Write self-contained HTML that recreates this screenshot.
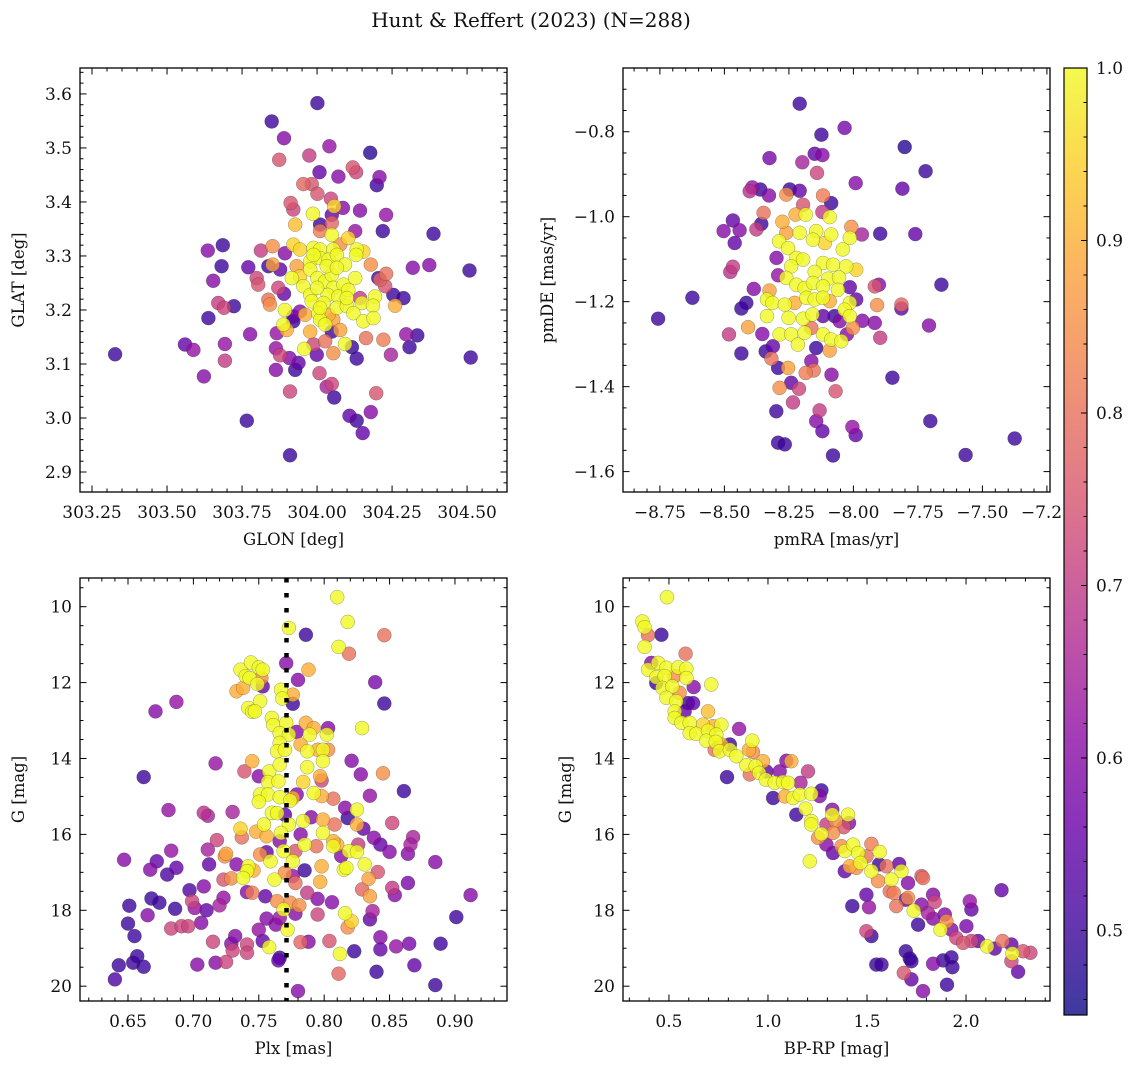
<!DOCTYPE html>
<html><head><meta charset="utf-8">
<style>
html,body{margin:0;padding:0;background:#fff;}
svg{display:block;font-family:"DejaVu Serif","Liberation Serif",serif;}
</style></head>
<body>
<svg id="fig" width="1136" height="1068" viewBox="0 0 1136 1068" xmlns="http://www.w3.org/2000/svg">
<rect x="0" y="0" width="1136" height="1068" fill="#fff"/>
<text x="531" y="27" font-size="20" text-anchor="middle" fill="#111">Hunt &amp; Reffert (2023) (N=288)</text>
<defs>
<linearGradient id="cbgrad" x1="0" y1="1" x2="0" y2="0">
<stop offset="0" stop-color="#0d0887"/><stop offset="0.1" stop-color="#41049d"/><stop offset="0.2" stop-color="#6a00a8"/><stop offset="0.3" stop-color="#8f0da4"/><stop offset="0.4" stop-color="#b12a90"/><stop offset="0.5" stop-color="#cc4778"/><stop offset="0.6" stop-color="#e16462"/><stop offset="0.7" stop-color="#f2844b"/><stop offset="0.8" stop-color="#fca636"/><stop offset="0.9" stop-color="#fcce25"/><stop offset="1" stop-color="#f0f921"/>
</linearGradient>
</defs>
<g id="layer"></g>
</svg>
<script>
// ---------- Panel 1: GLON / GLAT ----------
const tlGlon = [
304.001,303.849,303.89,304.041,304.177,303.874,303.974,304.119,304.13,304.008,
304.071,304.208,304.199,303.954,303.982,304.001,304.046,303.912,303.921,304.086,
304.057,304.143,304.23,304.049,303.927,303.986,304.01,304.049,304.219,304.388,
304.127,304.01,304.049,304.104,303.686,303.636,303.813,303.852,303.893,303.921,
303.943,303.988,304.01,304.054,304.077,304.132,304.154,304.13,303.682,303.771,
303.838,303.852,303.877,303.932,303.977,304.01,304.038,304.066,304.093,304.179,
304.319,304.374,304.508,303.654,303.799,303.804,303.871,303.89,303.916,303.954,
303.977,304.001,304.027,304.049,304.054,304.088,304.127,304.204,304.21,304.23,
304.227,304.254,304.288,303.671,303.69,303.723,303.838,303.843,303.977,304.035,
304.071,303.982,304.021,304.066,304.099,304.143,304.149,304.193,304.186,304.26,
303.893,303.943,303.921,303.96,304.004,304.01,304.054,304.121,303.638,303.888,
303.899,303.921,303.977,304.027,304.049,304.077,304.154,304.188,303.777,303.866,
303.693,303.56,303.588,303.863,303.957,303.988,304.027,304.054,304.093,304.116,
304.163,304.221,304.297,304.334,304.308,304.246,304.512,303.327,303.693,303.877,
303.908,303.938,303.999,304.132,303.863,303.927,303.623,304.008,304.032,304.049,
303.91,304.057,304.197,304.108,304.132,304.179,303.766,304.152,303.91,
303.988,304.032,304.066,304.0,303.943,304.104,304.01,304.038,304.099];
const tlGlat = [
3.583,3.549,3.518,3.503,3.491,3.478,3.486,3.464,3.455,3.455,
3.447,3.446,3.431,3.433,3.433,3.415,3.406,3.398,3.386,3.389,
3.392,3.384,3.376,3.376,3.358,3.378,3.358,3.361,3.346,3.341,
3.346,3.346,3.339,3.333,3.32,3.31,3.31,3.318,3.305,3.321,
3.312,3.315,3.312,3.312,3.321,3.312,3.308,3.302,3.281,3.279,
3.281,3.284,3.275,3.281,3.29,3.296,3.293,3.302,3.284,3.284,
3.278,3.283,3.273,3.254,3.259,3.247,3.241,3.23,3.259,3.244,
3.275,3.259,3.253,3.265,3.241,3.247,3.259,3.259,3.256,3.267,
3.244,3.228,3.222,3.213,3.204,3.207,3.219,3.21,3.228,3.228,
3.225,3.216,3.213,3.204,3.207,3.222,3.213,3.225,3.208,3.208,
3.2,3.197,3.188,3.191,3.194,3.182,3.182,3.194,3.185,3.173,
3.163,3.179,3.16,3.173,3.16,3.163,3.179,3.185,3.155,3.157,
3.137,3.136,3.126,3.129,3.128,3.136,3.142,3.12,3.137,3.131,
3.148,3.145,3.155,3.153,3.131,3.117,3.112,3.118,3.106,3.116,
3.111,3.102,3.117,3.11,3.089,3.089,3.077,3.083,3.058,3.063,
3.049,3.038,3.046,3.004,2.995,3.011,2.995,2.972,2.931,
3.302,3.281,3.278,3.241,3.262,3.237,3.204,3.191,3.222];
const tlProb = [
.5,.5,.6,.62,.48,.75,.7,.75,.72,.55,
.6,.6,.5,.78,.75,.75,.72,.75,.72,.6,
.95,.6,.62,.55,.92,1,.5,.78,.5,.5,
.62,.82,1,.95,.5,.6,.7,.85,.6,.95,
.95,1,1,1,.85,1,.95,1,.5,.55,
.5,.88,.55,.88,1,1,1,1,1,.85,
.6,.6,.5,.6,.72,.75,.72,.55,1,1,
1,1,1,1,1,1,1,.5,.78,.8,
.75,.5,.5,.7,.72,.5,.8,.85,1,1,
1,1,1,1,1,.7,1,1,1,.9,
1,.6,.55,.9,1,1,.88,1,.5,1,
.9,.5,.9,1,.5,.88,1,1,.6,.62,
.62,.55,.62,.62,1,.72,.8,.85,1,.5,
.8,.82,.62,.5,.5,.65,.5,.5,.7,.72,
.6,.55,.55,.5,.6,.5,.6,.72,.65,.72,
.72,.5,.75,.55,.5,.6,.5,.55,.5,
1,1,1,1,.95,1,1,.9,1];
const tlXTicks = [303.25,303.50,303.75,304.00,304.25,304.50];
const tlYTicks = [2.9,3.0,3.1,3.2,3.3,3.4,3.5,3.6];

// ---------- Panel 2: pmRA / pmDE ----------
const trPmra = [
-8.208,-8.034,-8.124,-7.801,-7.72,-8.325,-8.198,-8.15,-8.12,-8.141,
-7.991,-7.81,-8.402,-8.392,-8.361,-8.327,-8.247,-8.208,-8.26,-8.118,
-8.086,-8.195,-8.348,-8.467,-8.357,-8.376,-8.441,-8.503,-8.46,-8.275,
-8.224,-8.185,-8.12,-8.092,-8.008,-7.967,-7.896,-7.76,-8.26,-8.208,
-8.144,-8.086,-8.014,-8.288,-8.253,-8.157,-8.111,-8.041,-8.298,-8.221,
-8.195,-8.118,-8.079,-8.028,-7.989,-8.241,-8.26,-8.15,-8.098,-8.056,
-8.467,-8.477,-8.292,-8.221,-8.189,-8.157,-8.118,-8.06,-8.014,-7.917,
-7.901,-7.659,-8.386,-8.325,-8.624,-8.415,-8.434,-8.335,-8.314,-8.266,
-8.228,-8.182,-8.15,-8.118,-8.092,-8.014,-7.989,-8.034,-7.908,-7.814,
-7.814,-8.757,-8.335,-8.251,-8.195,-8.159,-8.118,-8.073,-8.053,-8.014,
-7.965,-7.917,-7.707,-8.408,-8.482,-8.353,-8.286,-8.241,-8.215,-8.189,
-8.163,-8.118,-8.086,-8.047,-8.002,-8.025,-7.896,-8.312,-8.34,-8.434,
-8.144,-8.092,-8.318,-8.292,-8.253,-8.185,-8.154,-8.163,-8.085,-7.849,
-8.241,-8.286,-8.211,-8.069,-8.234,-8.131,-8.299,-8.144,-8.12,-8.004,
-7.991,-7.702,-8.292,-8.266,-8.079,-7.565,-7.375];
const trPmde = [
-0.734,-0.791,-0.807,-0.836,-0.893,-0.862,-0.872,-0.852,-0.855,-0.897,
-0.921,-0.934,-0.94,-0.931,-0.936,-0.95,-0.936,-0.939,-0.948,-0.95,
-0.968,-0.972,-0.991,-1.009,-1.017,-1.03,-1.032,-1.034,-1.062,-1.012,
-0.995,-0.995,-0.989,-1.001,-1.024,-1.042,-1.04,-1.041,-1.038,-1.038,
-1.034,-1.042,-1.05,-1.058,-1.074,-1.054,-1.062,-1.077,-1.097,-1.097,
-1.101,-1.109,-1.113,-1.117,-1.125,-1.117,-1.144,-1.13,-1.146,-1.143,
-1.118,-1.13,-1.138,-1.16,-1.168,-1.156,-1.164,-1.172,-1.166,-1.164,
-1.16,-1.16,-1.17,-1.174,-1.191,-1.203,-1.216,-1.195,-1.203,-1.207,
-1.203,-1.191,-1.195,-1.191,-1.199,-1.203,-1.195,-1.219,-1.208,-1.207,
-1.216,-1.24,-1.234,-1.238,-1.24,-1.23,-1.234,-1.234,-1.246,-1.234,
-1.245,-1.25,-1.256,-1.26,-1.277,-1.276,-1.277,-1.277,-1.301,-1.273,
-1.262,-1.277,-1.289,-1.293,-1.262,-1.277,-1.285,-1.305,-1.317,-1.322,
-1.309,-1.315,-1.334,-1.356,-1.356,-1.368,-1.362,-1.34,-1.372,-1.379,
-1.391,-1.403,-1.405,-1.411,-1.437,-1.456,-1.458,-1.481,-1.505,-1.495,
-1.514,-1.481,-1.532,-1.536,-1.562,-1.561,-1.522];
const trProb = [
.5,.58,.5,.48,.5,.58,.65,.55,.6,.72,
.6,.55,.68,.62,.5,.6,.5,.55,.85,.82,
.5,.75,.8,.55,.5,.7,.6,.6,.55,.9,
.9,1,.7,1,.85,.65,.5,.55,.88,1,
1,1,1,1,1,1,.95,1,.6,1,
1,1,1,1,.95,1,1,1,1,1,
.7,.68,.62,1,1,1,1,1,.55,.75,
.6,.5,.6,.88,.5,.5,.5,1,1,1,
.9,1,1,1,.9,1,.55,1,.85,.78,
.55,.5,1,1,1,1,.55,.5,.6,1,
.6,.6,.6,.88,.7,.6,1,1,1,1,
.8,1,1,1,.85,.6,.7,.55,.5,.5,
.5,.88,.8,.5,.88,.82,.8,.6,.6,.5,
.55,.85,.72,.75,.7,.7,.5,.6,.55,.62,
.55,.5,.5,.5,.5,.5,.5];
const trXTicks = [-8.75,-8.50,-8.25,-8.00,-7.75,-7.50,-7.25];
const trYTicks = [-1.6,-1.4,-1.2,-1.0,-0.8];

// ---------- Panel 3: Plx / G ----------
const blPlx = [
.810,.818,.773,.786,.846,.811,.819,.771,.788,.780,
.839,.846,.776,.736,.744,.750,.753,.740,.743,.749,
.752,.753,.733,.738,.751,.742,.745,.747,.767,.768,
.776,.760,.761,.771,.766,.773,.779,.786,.792,.789,
.803,.802,.782,.787,.795,.799,.803,.766,.764,.770,
.799,.787,.797,.798,.829,.821,.828,.845,.861,.835,
.784,.792,.798,.807,.779,.776,.745,.739,.750,.758,
.757,.766,.765,.751,.757,.750,.766,.774,.717,.662,
.671,.687,.681,.708,.711,.730,.760,.764,.770,.754,
.736,.737,.748,.756,.773,.767,.766,.782,.784,.790,
.799,.808,.799,.816,.818,.825,.825,.830,.838,.843,
.850,.852,.868,.866,.864,.885,.912,.901,.889,.885,
.869,.865,.855,.864,.852,.854,.841,.834,.829,.835,
.837,.835,.843,.843,.840,.823,.812,.811,.804,.788,
.782,.780,.766,.765,.758,.753,.750,.756,.766,.772,
.769,.778,.774,.781,.764,.755,.745,.741,.778,.776,
.785,.787,.795,.806,.795,.816,.821,.818,.797,.798,
.815,.817,.831,.819,.825,.826,.813,.810,.807,.807,
.794,.785,.778,.769,.776,.770,.762,.759,.751,.756,
.742,.741,.738,.746,.729,.723,.733,.725,.724,.718,
.711,.712,.683,.687,.680,.672,.667,.647,.651,.650,
.655,.640,.643,.654,.657,.662,.665,.668,.674,.686,
.683,.691,.696,.706,.697,.708,.699,.701,.710,.720,
.723,.703,.717,.725,.715,.729,.732,.730,.741,.741,
.763];
const blG = [
9.75,10.40,10.56,10.74,10.75,11.06,11.24,11.49,11.66,11.93,
11.99,12.55,12.56,11.66,11.47,11.6,11.66,11.83,11.88,12.04,
11.88,12.1,12.23,12.14,12.49,12.67,12.77,12.76,12.19,12.42,
12.32,12.93,13.12,13.06,13.33,13.37,13.3,13.06,13.2,13.37,
13.2,13.37,13.63,13.81,13.77,13.77,13.77,13.59,13.81,13.77,
14.07,14.23,14.47,14.58,13.2,14.06,14.42,14.39,14.86,14.98,
14.62,14.91,14.99,15.06,14.95,15.04,14.07,14.34,14.47,14.34,
14.62,14.16,14.6,14.95,14.95,15.14,15.02,15.11,14.13,14.49,
12.76,12.51,15.36,15.43,15.51,15.41,15.43,15.44,15.48,15.74,
15.85,16.08,15.93,16.05,15.74,15.96,16.18,16.0,15.65,15.55,
15.61,15.74,15.96,15.3,15.57,15.35,15.74,15.85,16.09,16.27,
16.46,15.7,16.07,16.27,16.51,16.73,17.6,18.18,18.88,19.97,
19.45,18.88,18.95,17.28,17.41,17.6,16.99,17.17,17.45,17.63,
18.02,18.24,18.71,19.03,19.62,19.08,19.15,19.67,18.81,18.83,
18.84,20.13,19.25,19.32,18.97,18.81,18.51,18.22,18.2,18.51,
17.98,18.09,17.8,17.87,17.76,17.63,17.54,17.52,17.28,17.1,
16.95,17.54,17.7,17.79,18.11,18.08,18.29,18.45,17.25,16.84,
16.93,16.88,16.79,16.44,16.46,16.27,16.57,16.27,16.31,16.18,
16.31,16.27,16.44,16.44,16.71,17.01,17.19,16.71,16.53,16.47,
16.84,16.97,17.15,16.95,17.16,17.19,16.79,16.51,16.58,16.15,
16.4,16.79,16.43,16.88,17.06,16.71,16.93,16.67,17.88,18.35,
18.68,19.82,19.45,19.38,19.21,19.49,18.13,17.69,17.8,17.96,
18.48,18.42,18.42,18.33,17.47,17.37,17.76,17.94,18.0,17.87,
17.67,19.43,19.38,19.36,18.83,18.88,18.68,19.06,18.9,19.12,
18.38];
const blProb = [
1,1,1,.5,.8,1,.8,.6,.9,.6,
.58,.5,.5,1,1,1,1,1,1,1,
.85,.55,.9,.9,1,1,1,1,1,1,
.9,1,1,1,1,1,.6,.9,.9,1,
.6,1,.9,1,.9,1,.85,1,1,1,
1,1,.9,.72,1,.6,.6,.85,.5,.62,
.95,1,.9,.8,.6,.9,.9,.75,.6,1,
1,1,1,1,1,1,1,1,.62,.5,
.6,.62,.62,.68,.65,.65,1,1,.55,1,
.95,.8,.9,.9,1,1,.6,.6,1,.6,
.9,.8,1,.6,.5,1,.9,.55,.6,.55,
.6,.72,.65,.65,.6,.6,.6,.5,.5,.5,
.55,.58,.62,.58,.7,.6,.75,.88,.78,.88,
.65,.55,.6,.55,.5,.5,1,.78,.75,.6,
.78,.6,.5,.55,1,.55,.62,.6,.62,1,
1,.6,.85,.85,.85,.55,.82,.6,.8,.62,
.5,.7,.6,.6,.72,1,.95,.85,.9,.9,
1,1,1,1,1,.7,.6,.9,1,.9,
.8,1,.75,1,1,.85,1,1,.85,.55,
1,1,1,.9,.85,.75,.6,.88,.85,.72,
.65,.55,.62,.55,.52,.55,.6,.6,.5,.5,
.5,.52,.5,.5,.5,.5,.6,.5,.5,.5,
.72,.72,.72,.6,.52,.6,.72,.62,.55,.65,
.62,.6,.6,.72,.72,.6,.6,.72,.72,.72,
.6];
const blXTicks = [0.65,0.70,0.75,0.80,0.85,0.90];
const gTicks = [10,12,14,16,18,20];
const plxRef = [0.7712];

// ---------- Panel 4: BP-RP / G ----------
const brBpRp = [
.490,.366,.377,.394,.462,.377,.584,.411,.394,.445,
.487,.546,.588,.436,.478,.529,.588,.436,.467,.517,
.554,.625,.714,.487,.537,.596,.622,.579,.529,.529,
.697,.563,.605,.605,.638,.672,.697,.723,.765,.739,
.689,.736,.765,.807,.731,.756,.807,.840,.854,.921,
.904,.924,.793,.891,.908,.938,.975,.955,.989,.992,
1.034,1.059,1.076,1.093,1.118,1.101,1.164,1.202,1.026,1.085,
1.127,1.160,1.219,1.270,1.261,1.143,1.190,1.219,1.219,1.270,
1.253,1.295,1.325,1.325,1.342,1.383,1.409,1.404,1.329,1.295,
1.329,1.371,1.388,1.430,1.455,1.497,1.467,1.413,1.388,1.446,
1.522,1.522,1.564,1.561,1.598,1.662,1.674,1.556,1.623,1.615,
1.635,1.648,1.707,1.707,1.696,1.783,1.775,1.736,1.758,1.775,
1.808,1.834,1.842,1.834,1.893,1.901,1.871,1.926,1.951,2.002,
2.019,2.027,1.985,2.027,2.061,2.106,2.145,2.184,2.179,2.229,
2.234,2.288,2.325,2.229,2.263,1.211,1.426,1.497,1.510,1.497,
1.522,1.547,1.573,1.696,1.716,1.724,1.686,1.724,1.783,1.834,
1.884,1.926,1.931,1.904];
const brG = [
9.75,10.39,10.54,10.75,10.74,11.06,11.24,11.48,11.66,11.48,
11.61,11.6,11.63,11.86,11.83,11.83,11.88,12.01,12.14,12.1,
12.27,12.12,12.05,12.4,12.49,12.54,12.54,12.76,12.76,12.93,
12.76,13.06,13.06,13.33,13.35,13.11,13.27,13.15,13.11,13.37,
13.53,13.56,13.63,13.63,13.77,13.81,13.77,13.94,13.22,13.53,
13.77,13.83,14.49,14.18,14.42,14.2,14.07,14.38,14.56,14.34,
14.64,14.34,14.62,14.06,14.07,14.64,14.64,14.34,15.04,15.0,
15.04,14.95,14.93,14.84,14.99,15.48,15.32,15.65,15.74,15.99,
16.09,15.74,15.35,15.48,15.65,15.81,15.7,15.48,15.96,16.27,
16.49,16.31,16.44,16.27,16.49,16.58,16.75,16.84,16.97,16.88,
16.97,16.25,16.46,16.79,16.84,16.78,16.97,17.23,17.19,17.5,
17.54,17.89,17.28,17.67,17.72,17.15,17.1,18.01,18.38,17.85,
18.07,17.59,17.78,18.22,18.11,18.29,18.51,18.51,18.73,18.42,
17.76,17.98,18.86,18.81,18.81,18.95,19.01,18.81,17.47,18.9,
19.14,19.08,19.12,19.34,19.62,16.71,17.89,17.59,17.92,18.55,
18.68,19.43,19.43,19.08,19.27,19.34,19.65,19.82,20.13,19.41,
19.32,19.24,19.5,19.96];
const brProb = [
1,1,1,.8,.5,1,.8,.6,1,1,
1,1,1,1,1,.85,1,.5,1,1,
.85,.6,1,1,1,.5,.55,.55,1,1,
.92,1,1,1,1,.95,1,.9,1,1,
1,1,.9,.5,.8,1,1,1,.62,1,
.9,.85,.5,1,.8,1,.9,1,1,.55,
1,.6,1,.6,.9,1,.65,.7,.5,.9,
1,1,1,.5,.6,.5,1,1,1,1,
.85,.7,.6,1,.85,.75,.6,1,.85,.6,
.55,.85,1,1,1,.8,1,.9,.55,.85,
1,.82,1,.5,.8,.55,1,.85,1,.8,
.82,.8,.6,.85,.55,.8,.75,1,.5,.6,
.65,.6,.72,.6,.6,.85,1,.6,.72,.58,
.62,.55,.75,.72,.55,1,.55,.8,.55,.55,
1,.75,.72,.72,.55,1,.5,.55,.62,.72,
.5,.5,.5,.5,.5,.5,.75,.55,.6,.6,
.5,.5,.5,.5];
const brXTicks = [0.5,1.0,1.5,2.0];

// ---------- Colorbar ----------
const cbTicks = [0.5,0.6,0.7,0.8,0.9,1.0];
const cbRange = [0.451,1.0];

const NS = "http://www.w3.org/2000/svg";
const layer = document.getElementById('layer');
const plasmaStops = [[13,8,135],[65,4,157],[106,0,168],[143,13,164],[177,42,144],[204,71,120],[225,100,98],[242,132,75],[252,166,54],[252,206,37],[240,249,33]];
function plasma(t){
  t = Math.max(0, Math.min(1, t));
  const f = t*10, i = Math.min(9, Math.floor(f)), u = f - i;
  const a = plasmaStops[i], b = plasmaStops[i+1];
  return 'rgb(' + [0,1,2].map(k => Math.round(a[k]+(b[k]-a[k])*u)).join(',') + ')';
}
function mk(tag, attrs, parent){
  const e = document.createElementNS(NS, tag);
  for (const k in attrs) e.setAttribute(k, attrs[k]);
  (parent || layer).appendChild(e);
  return e;
}
function fmt(v, d){ return v.toFixed(d).replace('-', '\u2212'); }
const FS = 17;

function panel(cfg){
  const g = mk('g', {});
  
  
  const sx = v => cfg.L + (v - cfg.xmin) / (cfg.xmax - cfg.xmin) * (cfg.R - cfg.L);
  const sy = cfg.invert
    ? v => cfg.T + (v - cfg.ymin) / (cfg.ymax - cfg.ymin) * (cfg.B - cfg.T)
    : v => cfg.B - (v - cfg.ymin) / (cfg.ymax - cfg.ymin) * (cfg.B - cfg.T);
  const idx = [];
  const n = Math.min(cfg.xs.length, cfg.ys.length, cfg.ps.length);
  for (let i = 0; i < n; i++) idx.push(i);
  idx.sort((a, b) => cfg.ps[a] - cfg.ps[b]);
  const pg = mk('g', {}, g);
  
  
  for (const i of idx) {
    const t = (cfg.ps[i] - cbRange[0]) / (cbRange[1] - cbRange[0]);
    const c = mk('circle', {cx: sx(cfg.xs[i]).toFixed(1), cy: sy(cfg.ys[i]).toFixed(1), r: 7, fill: plasma(t), 'fill-opacity': 0.8, stroke: 'rgba(40,40,40,0.45)', 'stroke-width': 0.5}, pg);
    
    
  }
  if (cfg.vline) {
    for (const v of cfg.vline) {
      const ln = mk('line', {x1: sx(v), x2: sx(v), y1: cfg.T, y2: cfg.B, stroke: '#000', 'stroke-width': 4.5, 'stroke-dasharray': '4.5 10.5'}, g);
      
      
    }
  }
  const tg = mk('g', {stroke: '#000', 'stroke-width': 1}, g);
  
  
  const M = 6.5, m = 3.5;
  const xstep = cfg.xTicks[1] - cfg.xTicks[0];
  const x0 = cfg.xTicks[0] - 10 * cfg.xMinor;
  for (let k = 0; ; k++) {
    const v = +(x0 + k * cfg.xMinor).toFixed(6);
    if (v > cfg.xmax) break;
    if (v < cfg.xmin) continue;
    const r = (v - cfg.xTicks[0]) / xstep;
    const major = Math.abs(r - Math.round(r)) < 1e-6;
    const L = major ? M : m, X = sx(v);
    mk('line', {x1: X, x2: X, y1: cfg.B, y2: cfg.B - L}, tg);
    mk('line', {x1: X, x2: X, y1: cfg.T, y2: cfg.T + L}, tg);
  }
  const ystep = cfg.yTicks[1] - cfg.yTicks[0];
  const y0 = cfg.yTicks[0] - 10 * cfg.yMinor;
  const ylo = Math.min(cfg.ymin, cfg.ymax), yhi = Math.max(cfg.ymin, cfg.ymax);
  for (let k = 0; ; k++) {
    const v = +(y0 + k * cfg.yMinor).toFixed(6);
    if (v > yhi) break;
    if (v < ylo) continue;
    const r = (v - cfg.yTicks[0]) / ystep;
    const major = Math.abs(r - Math.round(r)) < 1e-6;
    const L = major ? M : m, Y = sy(v);
    mk('line', {x1: cfg.L, x2: cfg.L + L, y1: Y, y2: Y}, tg);
    mk('line', {x1: cfg.R, x2: cfg.R - L, y1: Y, y2: Y}, tg);
  }
  for (const v of cfg.xTicks) {
    const t = mk('text', {x: sx(v), y: cfg.B + 26, 'font-size': FS, 'text-anchor': 'middle', fill: '#111'}, g);
    t.textContent = fmt(v, cfg.xDec);
    
    
  }
  for (const v of cfg.yTicks) {
    const t = mk('text', {x: cfg.L - 8, y: sy(v) + 6, 'font-size': FS, 'text-anchor': 'end', fill: '#111'}, g);
    t.textContent = fmt(v, cfg.yDec);
    
    
  }
  const fr = mk('rect', {x: cfg.L, y: cfg.T, width: cfg.R - cfg.L, height: cfg.B - cfg.T, fill: 'none', stroke: '#000', 'stroke-width': 1.3}, g);
  
  
  const xt = mk('text', {x: (cfg.L + cfg.R) / 2, y: cfg.B + 53, 'font-size': 16.5, 'text-anchor': 'middle', fill: '#111'}, g);
  xt.textContent = cfg.xlabel;
  
  
  const cy = (cfg.T + cfg.B) / 2;
  const yt = mk('text', {x: cfg.ylx, y: cy, 'font-size': 16.5, 'text-anchor': 'middle', fill: '#111', transform: 'rotate(-90 ' + cfg.ylx + ' ' + cy + ')'}, g);
  yt.textContent = cfg.ylabel;
  
  
}

panel({name: 'glon-glat-panel', L: 80, R: 507, T: 68, B: 492, xmin: 303.21, xmax: 304.633, ymin: 2.863, ymax: 3.648,
  xs: tlGlon, ys: tlGlat, ps: tlProb, xTicks: tlXTicks, yTicks: tlYTicks, xMinor: 0.05, yMinor: 0.02, xDec: 2, yDec: 1,
  xlabel: 'GLON [deg]', ylabel: 'GLAT [deg]', ylx: 24});
panel({name: 'pm-panel', L: 623, R: 1050, T: 68, B: 492, xmin: -8.893, xmax: -7.238, ymin: -1.648, ymax: -0.650,
  xs: trPmra, ys: trPmde, ps: trProb, xTicks: trXTicks, yTicks: trYTicks, xMinor: 0.05, yMinor: 0.05, xDec: 2, yDec: 1,
  xlabel: 'pmRA [mas/yr]', ylabel: 'pmDE [mas/yr]', ylx: 553});
panel({name: 'plx-g-panel', L: 80, R: 507, T: 578, B: 1001, xmin: 0.6133, xmax: 0.9398, ymin: 9.244, ymax: 20.39, invert: true,
  xs: blPlx, ys: blG, ps: blProb, xTicks: blXTicks, yTicks: gTicks, xMinor: 0.01, yMinor: 0.5, xDec: 2, yDec: 0,
  xlabel: 'Plx [mas]', ylabel: 'G [mag]', ylx: 24, vline: plxRef});
panel({name: 'cmd-panel', L: 623, R: 1050, T: 578, B: 1001, xmin: 0.268, xmax: 2.424, ymin: 9.244, ymax: 20.39, invert: true,
  xs: brBpRp, ys: brG, ps: brProb, xTicks: brXTicks, yTicks: gTicks, xMinor: 0.1, yMinor: 0.5, xDec: 1, yDec: 0,
  xlabel: 'BP-RP [mag]', ylabel: 'G [mag]', ylx: 571});

(function(){
  const L = 1064, R = 1087, T = 68, B = 1015;
  const cg = mk('g', {});
  
  
  const bg = mk('rect', {x: L - 2, y: T, width: R - L + 2, height: B - T, fill: '#fff'}, cg);
  
  
  const bar = mk('rect', {x: L, y: T, width: R - L, height: B - T, fill: 'url(#cbgrad)', 'fill-opacity': 0.8}, cg);
  
  
  const sy = v => B - (v - cbRange[0]) / (cbRange[1] - cbRange[0]) * (B - T);
  for (let k = 0; k <= 30; k++) {
    const v = +(0.4 + k * 0.02).toFixed(4);
    if (v < cbRange[0] || v > cbRange[1] + 1e-9) continue;
    const major = Math.abs(v * 10 - Math.round(v * 10)) < 1e-6;
    const Y = sy(v);
    mk('line', {x1: R, x2: R - (major ? 6 : 3.5), y1: Y, y2: Y, stroke: '#000', 'stroke-width': 1}, cg);
  }
  for (const v of cbTicks) {
    const t = mk('text', {x: 1096, y: sy(v) + 6, 'font-size': FS, fill: '#111'}, cg);
    t.textContent = v.toFixed(1);
    
    
  }
  const fr = mk('rect', {x: L, y: T, width: R - L, height: B - T, fill: 'none', stroke: '#000', 'stroke-width': 1.2}, cg);
  
  
})();
</script>
</body></html>
